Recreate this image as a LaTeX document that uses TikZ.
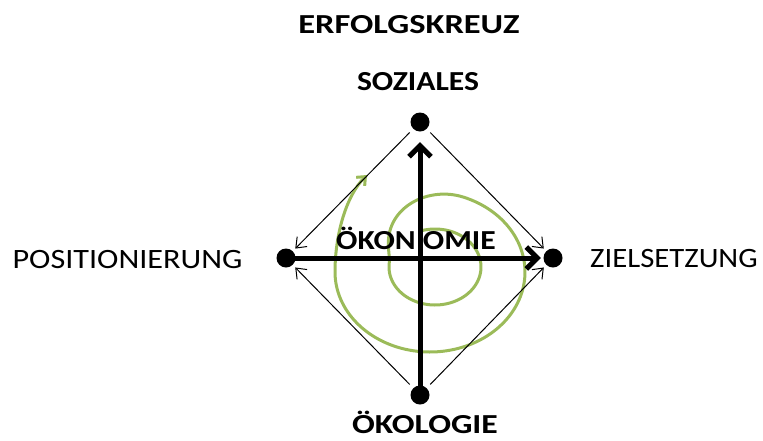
\documentclass[tikz,border=0pt]{standalone}
\usepackage{fontspec}
\setmainfont[FakeStretch=1.15]{Carlito}
\usetikzlibrary{arrows.meta}
\definecolor{spiralgreen}{RGB}{155,187,89}
\tikzset{
  dot/.style={circle, fill=black, minimum size=19pt, inner sep=0pt},
  lbl/.style={inner sep=0pt, font=\fontsize{28}{32}\selectfont},
  blbl/.style={inner sep=0pt, font=\fontsize{27.5}{32}\selectfont\bfseries},
  thinarr/.style={line width=1pt, -{Straight Barb[length=9pt,width=14pt]}, shorten <=5pt, shorten >=3.5pt},
  bigarr/.style={line width=5pt, -{Straight Barb[length=11pt,width=22pt]}},
  spiral/.style={spiralgreen, line width=3pt, -{Straight Barb[length=7pt,width=12pt]}},
  declare function={
    clampu(\t)=min(max(\t,0),1);
    sst(\t)=clampu(\t)*clampu(\t)*(3-2*clampu(\t));
    ga(\q)=sst((\q-185)/105);
    ra(\q)=46+49*ga(\q);
    rb(\q)=38+42*ga(\q);
    cxx(\q)=435-5*ga(\q);
    cyy(\q)=267+5*ga(\q);
  }
}
\begin{document}
\begin{tikzpicture}[x=1pt,y=-1pt]
\useasboundingbox (0,0) rectangle (763,440);
% spiral
\coordinate (spend) at (367,175);
\draw[spiral] plot[domain=-106:540, samples=260, variable=\p]
  ({cxx(\p)+ra(\p)*cos(\p)}, {cyy(\p)+rb(\p)*sin(\p)})
  .. controls (335,235) and (346,196) .. (spend);
% dots
\node[dot] (S) at (420,122) {};
\node[dot] (P) at (286,258) {};
\node[dot] (Z) at (553,258) {};
\node[dot] (O) at (420,395) {};
% thin arrows
\draw[thinarr] (S) -- (P);
\draw[thinarr] (S) -- (Z);
\draw[thinarr] (O) -- (P);
\draw[thinarr] (O) -- (Z);
% thick arrows
\draw[bigarr, shorten >=10.5pt] (O.center) -- (S);
\draw[bigarr, shorten >=2.5pt] (P.center) -- (Z);
% labels
\node[blbl, anchor=base] (title) at (409,33) {\scalebox{1.09}[1]{ERFOLGSKREUZ}};
\node[blbl, anchor=base] (tS) at (418,90) {SOZIALES};
\node[blbl, anchor=base] (tO) at (425,433) {\scalebox{1.065}[1]{ÖKOLOGIE}};
\node[blbl, anchor=base] (tM) at (416,249) {ÖKON OMIE};
\node[lbl, anchor=base] (tP) at (127.5,268) {POSITIONIERUNG};
\node[lbl, anchor=base west] (tZ) at (590,267) {\scalebox{0.955}[1]{ZIELSETZUNG}};
\end{tikzpicture}
\end{document}
